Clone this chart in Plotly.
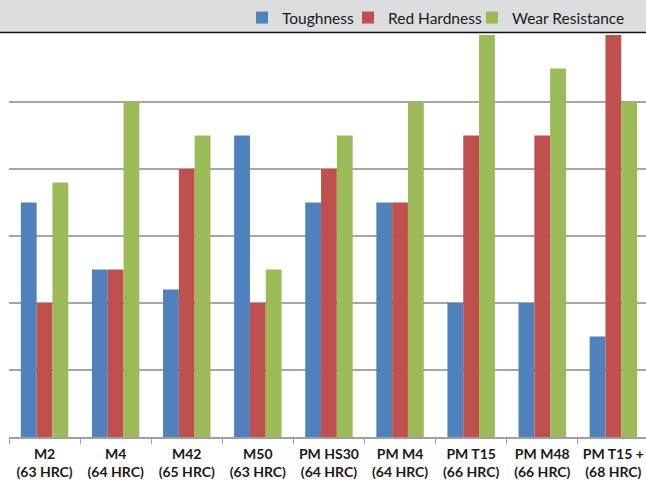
import plotly.graph_objects as go

# Tool steel grades and relative property ratings (0-6 scale)
grades = ["M2", "M4", "M42", "M50", "PM HS30", "PM M4", "PM T15", "PM M48", "PM T15 +"]
hardness_hrc = ["63 HRC", "64 HRC", "65 HRC", "63 HRC", "64 HRC", "64 HRC", "66 HRC", "66 HRC", "68 HRC"]
toughness = [3.5, 2.5, 2.2, 4.5, 3.5, 3.5, 2.0, 2.0, 1.5]
red_hardness = [2.0, 2.5, 4.0, 2.0, 4.0, 3.5, 4.5, 4.5, 6.0]
wear_resistance = [3.8, 5.0, 4.5, 2.5, 4.5, 5.0, 6.0, 5.5, 5.0]

series_names = ["Toughness", "Red Hardness", "Wear Resistance"]
series_colors = ["#4F81BD", "#C0504D", "#9BBB59"]
# left edge (px) of each legend entry's label
legend_text_x = [282, 388, 512]

labels = [f"{g}<br>({h})" for g, h in zip(grades, hardness_hrc)]

W, H = 646, 481
m_l, m_r, m_t, m_b = 9, 0, 35, 44
plot_w = W - m_l - m_r
plot_h = H - m_t - m_b

def px_x(px):
    """Convert a pixel column to paper x."""
    return (px - m_l) / plot_w

def py(px):
    """Convert a pixel row (from top) to paper y."""
    return (H - m_b - px) / plot_h

fig = go.Figure()
legend_ids = ["legend", "legend2", "legend3"]
for name, vals, col, lid in zip(series_names, [toughness, red_hardness, wear_resistance],
                                series_colors, legend_ids):
    fig.add_trace(go.Bar(
        x=labels, y=vals, name=name, legend=lid,
        marker=dict(color=col, line=dict(width=0)),
    ))

# header band with a dark rule beneath it
fig.add_shape(type="rect", xref="paper", yref="paper",
              x0=-0.1, x1=1.1, y0=py(32), y1=py(-2),
              fillcolor="#DCDDDF", line=dict(width=0), layer="below")
fig.add_shape(type="line", xref="paper", yref="paper",
              x0=-0.1, x1=1.1, y0=py(32.5), y1=py(32.5),
              line=dict(color="#111111", width=1.5))

legend_style = dict(
    orientation="h", xref="paper", yref="paper", xanchor="left",
    y=py(18), yanchor="middle", bgcolor="rgba(0,0,0,0)",
    font=dict(size=15.5, color="#1a1a1a"), itemwidth=30,
)
legends = {lid: dict(legend_style, x=px_x(tx - 40)) for lid, tx in zip(legend_ids, legend_text_x)}

fig.update_layout(
    width=W, height=H,
    margin=dict(l=m_l, r=m_r, t=m_t, b=m_b, autoexpand=False),
    paper_bgcolor="white", plot_bgcolor="white",
    barmode="group", bargap=0.333, bargroupgap=0,
    font=dict(family="Lato, Open Sans, sans-serif", color="#1a1a1a"),
    showlegend=True,
    **legends,
)

fig.update_xaxes(
    type="category", range=[-0.5, -0.5 + plot_w / 71.1],
    tickson="boundaries", ticks="outside", ticklen=5, tickcolor="#A0A0A0",
    ticklabelstandoff=3,
    showline=True, linecolor="#A0A0A0", linewidth=1.5,
    showgrid=False, tickfont=dict(size=14, family="Lato", weight="bold", color="#1a1a1a"),
)
fig.update_yaxes(
    range=[0, 6], dtick=1, showgrid=True, gridcolor="#A6A6A6", gridwidth=1.5,
    showticklabels=False, zeroline=False, showline=False, ticks="",
)

fig.write_html("out.html")
